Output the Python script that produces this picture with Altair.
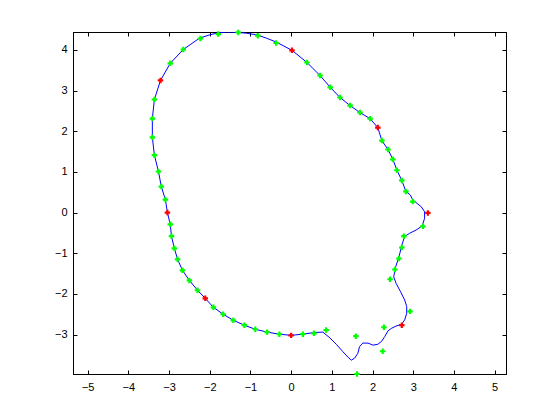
import altair as alt
import pandas as pd

# Blue curve (closed), in drawing order
curve_x = [3.28, 3.20, 2.99, 2.93, 2.82, 2.72, 2.60, 2.50, 2.38, 2.23, 2.13, 1.94, 1.69, 1.45,
           1.20, 0.96, 0.71, 0.39, 0.02, -0.36, -0.61, -0.84, -1.10, -1.31, -1.59, -1.80, -2.00,
           -2.25, -2.65, -2.97, -3.21, -3.36, -3.41, -3.41, -3.36, -3.26, -3.19, -3.09, -3.04,
           -2.97, -2.94, -2.87, -2.79, -2.67, -2.50, -2.30, -2.11, -1.91, -1.67, -1.42, -1.15,
           -0.88, -0.59, -0.29, 0.00, 0.29, 0.56, 0.78, 0.95, 1.11, 1.27, 1.40, 1.48, 1.56, 1.64,
           1.68, 1.76, 1.89, 2.01, 2.13, 2.22, 2.30, 2.38, 2.46, 2.58, 2.71, 2.79, 2.84, 2.84,
           2.79, 2.69, 2.58, 2.52, 2.57, 2.65, 2.72, 2.79, 2.91, 3.07, 3.22, 3.28, 3.28]
curve_y = [0.02, 0.14, 0.31, 0.43, 0.52, 0.79, 1.04, 1.31, 1.55, 1.77, 2.09, 2.31, 2.46, 2.63,
           2.83, 3.08, 3.37, 3.69, 3.99, 4.19, 4.29, 4.37, 4.41, 4.43, 4.44, 4.42, 4.37,
           4.29, 4.01, 3.67, 3.25, 2.78, 2.31, 1.85, 1.41, 1.01, 0.64, 0.32, 0.00,
           -0.29, -0.58, -0.88, -1.15, -1.42, -1.67, -1.91, -2.11, -2.33, -2.50, -2.65, -2.77,
           -2.87, -2.94, -2.99, -3.02, -2.99, -2.95, -2.94, -3.08, -3.24, -3.42, -3.56, -3.63, -3.58, -3.46,
           -3.30, -3.21, -3.21, -3.26, -3.24, -3.17, -3.05, -2.91, -2.85, -2.79, -2.75, -2.64, -2.48, -2.31,
           -2.15, -1.95, -1.74, -1.58, -1.33, -1.09, -0.80, -0.59, -0.51, -0.43, -0.33, -0.14, 0.02]

# Green markers
green_x = [2.99, 2.82, 2.72, 2.60, 2.50, 2.38, 2.23,
           1.94, 1.69, 1.45, 1.20, 0.96, 0.71, 0.39,
           -0.37, -0.82, -1.30, -1.79, -2.23, -2.65, -2.97,
           -3.36, -3.41, -3.41, -3.36, -3.26, -3.19, -3.09,
           -2.97, -2.94, -2.87, -2.79, -2.67, -2.50, -2.30,
           -1.91, -1.67, -1.42, -1.15, -0.88, -0.59, -0.29,
           0.29, 0.56, 0.86, 1.59, 1.62, 2.25, 2.28,
           2.92, 2.43, 2.55, 2.65, 2.72, 2.77, 3.24]
green_y = [0.27, 0.52, 0.79, 1.04, 1.31, 1.55, 1.77,
           2.31, 2.46, 2.63, 2.83, 3.08, 3.37, 3.69,
           4.17, 4.35, 4.43, 4.39, 4.28, 4.01, 3.67,
           2.78, 2.31, 1.85, 1.41, 1.01, 0.64, 0.32,
           -0.29, -0.58, -0.88, -1.15, -1.42, -1.67, -1.91,
           -2.33, -2.50, -2.65, -2.77, -2.87, -2.94, -2.99,
           -2.99, -2.97, -2.89, -3.04, -3.97, -3.41, -2.82,
           -2.43, -1.64, -1.40, -1.13, -0.86, -0.58, -0.34]

# Red markers
red_x = [3.36, 2.13, 0.02, -3.21, -3.04, -2.11, 0.00, 2.72]
red_y = [-0.01, 2.09, 3.99, 3.25, 0.00, -2.11, -3.02, -2.77]

x_ticks = [-5, -4, -3, -2, -1, 0, 1, 2, 3, 4, 5]
y_ticks = [-3, -2, -1, 0, 1, 2, 3, 4]

XDOM = [-5.36, 5.28]
YDOM = [-3.97, 4.44]
W, H = 433, 342
FONT = "Liberation Sans"

curve_df = pd.DataFrame({"x": curve_x, "y": curve_y, "i": list(range(len(curve_x)))})
green_df = pd.DataFrame({"x": green_x, "y": green_y})
red_df = pd.DataFrame({"x": red_x, "y": red_y})


def xscale():
    return alt.Scale(domain=XDOM, nice=False, zero=False)


def yscale():
    return alt.Scale(domain=YDOM, nice=False, zero=False)


def tick_axis(orient, values, offset):
    return alt.Axis(orient=orient, values=values, labels=False, domain=True,
                    domainColor="black", domainWidth=1, grid=False,
                    ticks=True, tickSize=4, tickColor="black", tickWidth=1,
                    offset=offset, title=None)


line = alt.Chart(curve_df).mark_line(color="#0000ff", strokeWidth=1, clip=True).encode(
    x=alt.X("x:Q", scale=xscale(),
            axis=alt.Axis(orient="bottom", values=x_ticks, ticks=False, domain=True,
                          domainColor="black", domainWidth=1, grid=False,
                          labelPadding=7, labelFont=FONT, labelFontSize=11, labelColor="black",
                          title=None)),
    y=alt.Y("y:Q", scale=yscale(),
            axis=alt.Axis(orient="left", values=y_ticks, ticks=False, domain=True,
                          domainColor="black", domainWidth=1, grid=False,
                          labelPadding=6, labelFont=FONT, labelFontSize=11, labelColor="black",
                          title=None)),
    order="i:Q",
)

green = alt.Chart(green_df).mark_point(shape="cross", filled=True, size=30, color="#00ff00",
                                        opacity=1).encode(
    x=alt.X("x:Q", scale=xscale(), axis=tick_axis("top", x_ticks, -H)),
    y=alt.Y("y:Q", scale=yscale(), axis=tick_axis("right", y_ticks, -W)),
)

red = alt.Chart(red_df).mark_point(shape="cross", filled=True, size=30, color="#ff0000",
                                    opacity=1).encode(
    x=alt.X("x:Q", scale=xscale(), axis=tick_axis("bottom", x_ticks, -H)),
    y=alt.Y("y:Q", scale=yscale(), axis=tick_axis("left", y_ticks, -W)),
)

chart = alt.layer(line, green, red).resolve_scale(
    x="independent", y="independent"
).properties(
    width=W, height=H,
    autosize=alt.AutoSizeParams(type="none"),
    padding={"left": 65, "top": 24, "right": 30, "bottom": 40},
    background="white",
).configure_view(stroke="black", strokeWidth=1)

chart.save("out.html", embed_options={"renderer": "svg", "actions": False})
